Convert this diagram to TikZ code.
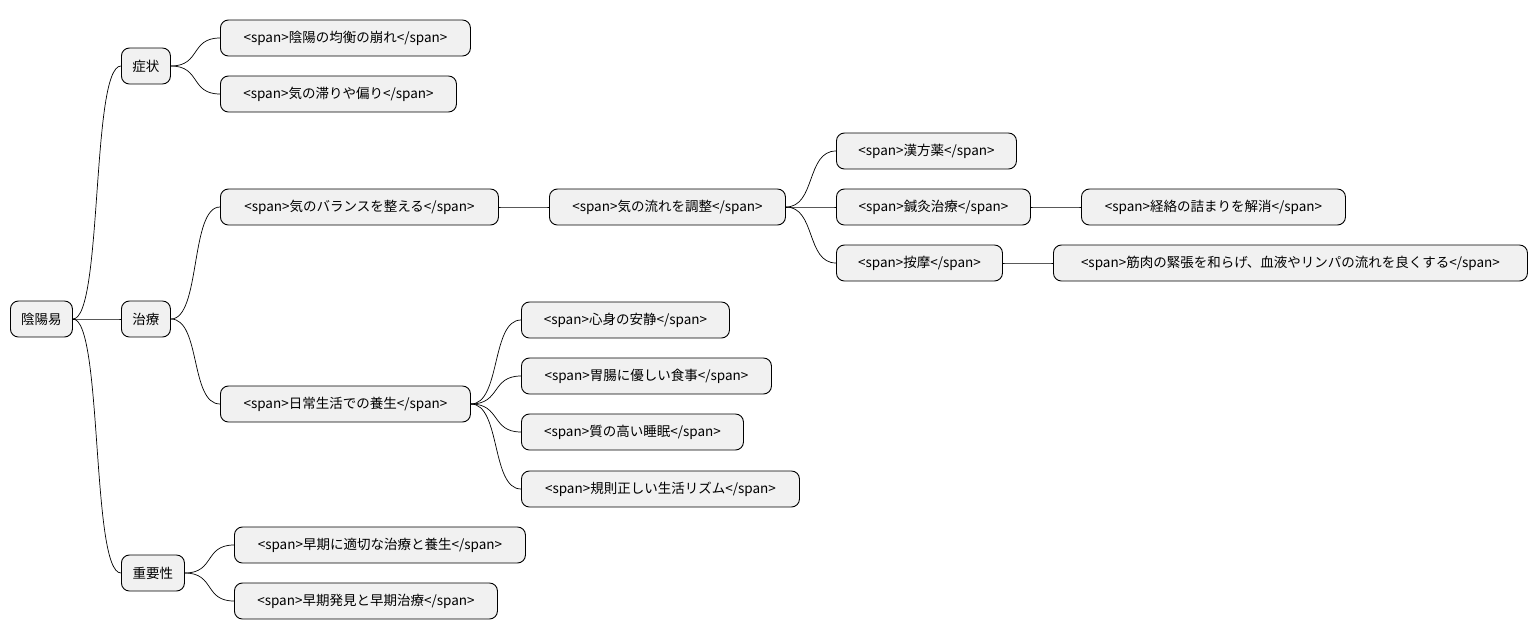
\documentclass[tikz,border=0pt]{standalone}
\usepackage{fontspec}
\setmainfont{Noto Sans CJK JP}
\begin{document}
\begin{tikzpicture}[x=1pt,y=-1pt,
  n/.style={draw=black,line width=0.9pt,fill={rgb,255:red,241;green,241;blue,241},rounded corners=8pt,
    minimum height=36pt,inner xsep=0pt,anchor=west,font=\fontsize{13.5pt}{15pt}\selectfont},
  e/.style={line width=0.7pt}]
\useasboundingbox (0,0) rectangle (1538,640);
\newcommand{\nd}[5]{\node[n,minimum width=#4pt] (#1) at (#2,#3) {#5};}
\nd{r}{10}{319}{62}{陰陽易}
\nd{a}{121}{66}{49}{症状}
\nd{b}{121}{319}{49}{治療}
\nd{c}{121}{573}{63}{重要性}
\nd{a1}{220}{38}{250}{<span>陰陽の均衡の崩れ</span>}
\nd{a2}{220}{94}{236}{<span>気の滞りや偏り</span>}
\nd{b1}{220}{207}{278}{<span>気のバランスを整える</span>}
\nd{b2}{220}{404}{250}{<span>日常生活での養生</span>}
\nd{b11}{549}{207}{236}{<span>気の流れを調整</span>}
\nd{k1}{836}{151}{180}{<span>漢方薬</span>}
\nd{k2}{836}{207}{194}{<span>鍼灸治療</span>}
\nd{k3}{836}{263}{166}{<span>按摩</span>}
\nd{k21}{1081}{207}{264}{<span>経絡の詰まりを解消</span>}
\nd{k31}{1053}{263}{474}{<span>筋肉の緊張を和らげ、血液やリンパの流れを良くする</span>}
\nd{d1}{521}{320}{208}{<span>心身の安静</span>}
\nd{d2}{521}{376}{250}{<span>胃腸に優しい食事</span>}
\nd{d3}{521}{432}{222}{<span>質の高い睡眠</span>}
\nd{d4}{521}{489}{278}{<span>規則正しい生活リズム</span>}
\nd{c1}{234}{545}{291}{<span>早期に適切な治療と養生</span>}
\nd{c2}{234}{601}{263}{<span>早期発見と早期治療</span>}
\foreach \p/\c in {r/a,r/b,r/c,a/a1,a/a2,b/b1,b/b2,b1/b11,b11/k1,b11/k2,b11/k3,k2/k21,k3/k31,b2/d1,b2/d2,b2/d3,b2/d4,c/c1,c/c2}
  \draw[e] (\p.east) .. controls +(30,0) and +(-30,0) .. (\c.west);
\end{tikzpicture}
\end{document}
